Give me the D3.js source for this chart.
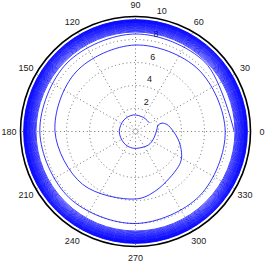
<!DOCTYPE html>
<html>
<head>
<meta charset="utf-8">
<script src="https://cdn.jsdelivr.net/npm/d3@7"></script>
<style>
  body { margin: 0; background: #fff; }
  text { font-family: "Liberation Sans", Arial, sans-serif; font-size: 9px; fill: #222; }
</style>
</head>
<body>
<script>
// grid / tick values
var rTicks = [2, 4, 6, 8, 10];
var angleTicks = [0, 30, 60, 90, 120, 150, 180, 210, 240, 270, 300, 330];

// spiral: angle (deg, counter-clockwise from east) and radius
var spiralTheta = [32, 60, 98, 135, 180, 225, 262, 313, 341, 364, 376, 377.5, 372.5, 361, 350, 341.4, 330, 320.6, 290, 270,
                   225, 180, 135, 90, 45, 0, -45, -90, -135, -180, -225, -270, -315, -360];
var spiralR = [1.42, 1.4, 1.45, 1.42, 1.41, 1.42, 1.47, 1.62, 1.7, 1.85, 2.06, 2.42, 2.81, 3.26, 3.75, 4.14, 4.62, 4.82, 5.41, 5.87,
               6.5, 7.0, 7.32, 7.52, 7.68, 7.8, 7.9, 8.0, 8.15, 8.32, 8.42, 8.48, 8.53, 8.58];
// the tightly wound outer turns, one radius per turn
var bandR = [8.65, 8.72, 8.79, 8.85, 8.91, 8.97, 9.02, 9.07, 9.12, 9.17, 9.21, 9.25, 9.29, 9.33, 9.37, 9.41,
             9.45, 9.48, 9.51, 9.54, 9.57, 9.6, 9.63, 9.655, 9.68, 9.705, 9.73];

var W = 266, H = 263, cx = 135.5, cy = 131.5;
var svg = d3.select("body").append("svg").attr("width", W).attr("height", H);
var g = svg.append("g").attr("transform", "translate(" + cx + "," + cy + ")");

var r = d3.scaleLinear().domain([0, 10]).range([0, 115]);
var rad = function (deg) { return deg * Math.PI / 180; };

// white face
g.append("circle").attr("r", r(10)).attr("fill", "#fff");

// dotted grid circles
g.selectAll("circle.grid").data(rTicks.slice(0, -1)).enter().append("circle")
    .attr("class", "grid").attr("r", function (d) { return r(d); })
    .attr("fill", "none").attr("stroke", "#333").attr("stroke-width", 0.7)
    .attr("stroke-dasharray", "1,2.8");

// dotted spokes
g.selectAll("line.spoke").data(angleTicks).enter().append("line")
    .attr("class", "spoke")
    .attr("x1", 0).attr("y1", 0)
    .attr("x2", function (d) { return r(10) * Math.cos(rad(d)); })
    .attr("y2", function (d) { return -r(10) * Math.sin(rad(d)); })
    .attr("stroke", "#333").attr("stroke-width", 0.7)
    .attr("stroke-dasharray", "1,2.8").attr("stroke-dashoffset", -2.2);

// outer circle
g.append("circle").attr("r", r(10)).attr("fill", "none").attr("stroke", "#000").attr("stroke-width", 1.6);

// radial tick labels at 82 degrees
g.selectAll("text.rlab").data(rTicks).enter().append("text")
    .attr("class", "rlab")
    .attr("x", function (d) { return r(d + 0.1) * Math.cos(rad(82)) + 5; })
    .attr("y", function (d) { return -r(d + 0.1) * Math.sin(rad(82)) - 2.5; })
    .text(function (d) { return d; });

// angle labels
g.selectAll("text.alab").data(angleTicks).enter().append("text")
    .attr("class", "alab")
    .attr("x", function (d) { return r(11) * Math.cos(rad(d)); })
    .attr("y", function (d) { return -r(11) * Math.sin(rad(d)); })
    .attr("text-anchor", "middle").attr("dy", "0.35em")
    .text(function (d) { return d; });

// spiral
var pts = spiralTheta.map(function (t, i) { return { t: t, r: spiralR[i] }; });
var line = d3.lineRadial()
    .angle(function (d) { return rad(90 - d.t); })
    .radius(function (d) { return r(d.r); })
    .curve(d3.curveCatmullRom);
g.append("path").datum(pts).attr("d", line)
    .attr("fill", "none").attr("stroke", "#0000ff").attr("stroke-width", 0.8);

g.selectAll("circle.band").data(bandR).enter().append("circle")
    .attr("class", "band").attr("r", function (d) { return r(d); })
    .attr("fill", "none").attr("stroke", "#0000ff").attr("stroke-width", 0.7);
</script>
</body>
</html>
